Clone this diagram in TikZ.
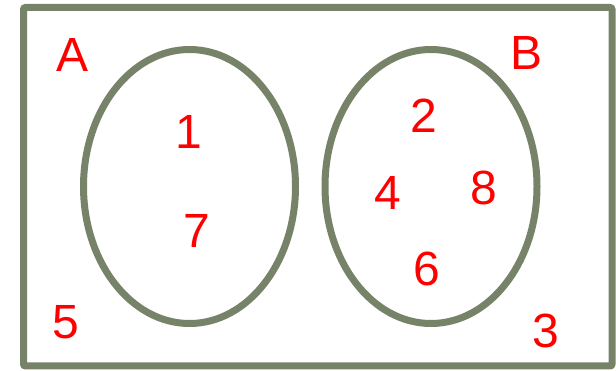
\documentclass[tikz,border=0pt]{standalone}
\usepackage{fontspec}
\usetikzlibrary{shapes.geometric}
\setmainfont{Liberation Sans}
\definecolor{frame}{RGB}{118,131,104}
\definecolor{lab}{RGB}{255,0,0}
\begin{document}
\begin{tikzpicture}[x=1pt,y=-1pt,
  setshape/.style={draw=frame,line width=7pt,ellipse,inner sep=0pt,outer sep=0pt,minimum width=212pt,minimum height=274pt},
  lbl/.style={text=lab,font=\fontsize{48}{48}\selectfont,inner sep=0pt}]
\useasboundingbox (0,0) rectangle (616,371);
\node[draw=frame,line width=7pt,rectangle,rounded corners=2pt,inner sep=0pt,minimum width=588.5pt,minimum height=358.5pt] (U) at (317.75,186.75) {};
\node[setshape] (SA) at (189.5,186.5) {};
\node[setshape] (SB) at (431,186.5) {};
\node[lbl] (A) at (73,55) {A};
\node[lbl] (B) at (527,53) {B};
\node[lbl] (n1) at (189,132) {1};
\node[lbl] (n7) at (197,231) {7};
\node[lbl] (n2) at (424,116) {2};
\node[lbl] (n4) at (388,193) {4};
\node[lbl] (n8) at (484,188) {8};
\node[lbl] (n6) at (427,269) {6};
\node[lbl] (n5) at (66,322) {5};
\node[lbl] (n3) at (546,331) {3};
\end{tikzpicture}
\end{document}
